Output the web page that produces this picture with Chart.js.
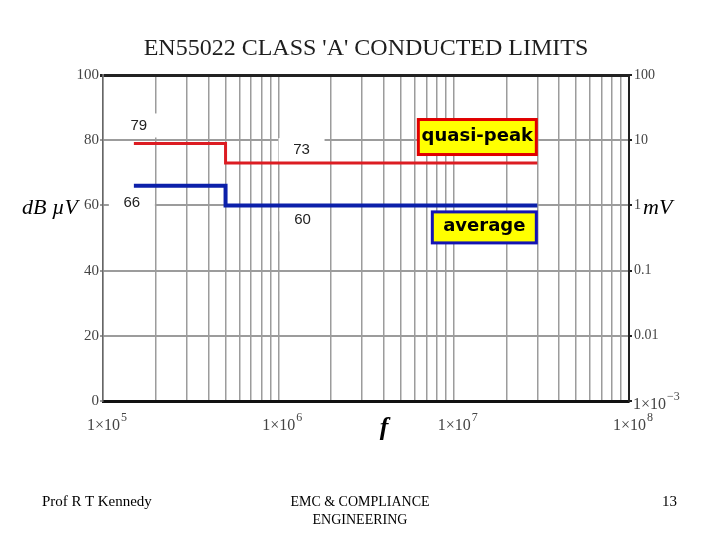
<!DOCTYPE html>
<html>
<head>
<meta charset="utf-8">
<script src="https://cdn.jsdelivr.net/npm/chart.js@4.4.1/dist/chart.umd.min.js"></script>
<style>
    body { margin: 0; background: #fff; }
    #wrap { position: relative; width: 720px; height: 540px; overflow: hidden; }
    #limits { position: absolute; left: 0; top: 0; }
    .txt { position: absolute; font-family: "Liberation Serif", "Times New Roman", serif; color: #000; }
    #title { left: 0; width: 732px; top: 34px; text-align: center; font-size: 24px; color: #1e1e1e; }
    #author { left: 42px; top: 493px; font-size: 15px; }
    #dept { left: 260px; width: 200px; top: 493px; font-size: 14px; line-height: 18px; text-align: center; }
    #page { left: 662px; top: 493px; font-size: 15px; }
</style>
</head>
<body>
<div id="wrap">
    <canvas id="limits" width="720" height="540"></canvas>
    <div class="txt" id="title">EN55022 CLASS 'A' CONDUCTED LIMITS</div>
    <div class="txt" id="author">Prof R T Kennedy</div>
    <div class="txt" id="dept">EMC &amp; COMPLIANCE<br>ENGINEERING</div>
    <div class="txt" id="page">13</div>
</div>
<script>
// limit lines: frequency break points (Hz) and level held from each point (dBuV)
const freqBreaks = [1.5e5, 5e5, 3e7];
const quasiPeakDb = [79, 73, 73];
const averageDb = [66, 60, 60];

// axes
const freqDecades = [1e5, 1e6, 1e7, 1e8];
const freqDecadeLabels = [['1×10', '5'], ['1×10', '6'], ['1×10', '7'], ['1×10', '8']];
const freqMinorSteps = [1, 2, 3, 4, 5, 6, 7, 8, 9];
const dbTicks = [0, 20, 40, 60, 80, 100];
const mvTicks = [1e-3, 0.01, 0.1, 1, 10, 100];
const mvTickLabels = [['1×10', '−3'], '0.01', '0.1', '1', '10', '100'];

const serif = '"Liberation Serif", "Times New Roman", serif';

const freqGrid = [];
freqDecades.slice(0, -1).forEach((d) => {
    freqMinorSteps.forEach((m) => freqGrid.push(d * m));
});
freqGrid.push(freqDecades[freqDecades.length - 1]);

function toPoints(levels) {
    return freqBreaks.map((f, i) => ({ x: f, y: levels[i] }));
}

function box(ctx, cx, cy, w, h, fill, stroke, lw) {
    ctx.fillStyle = fill;
    ctx.fillRect(cx - w / 2, cy - h / 2, w, h);
    if (stroke) {
        ctx.strokeStyle = stroke;
        ctx.lineWidth = lw;
        ctx.strokeRect(cx - w / 2, cy - h / 2, w, h);
    }
}

// "1x10" with a raised exponent, left edge at x, baseline at y
function powerLabel(ctx, parts, x, y) {
    ctx.textAlign = 'left';
    ctx.textBaseline = 'alphabetic';
    ctx.font = '16px ' + serif;
    ctx.fillText(parts[0], x, y);
    const w = ctx.measureText(parts[0]).width;
    ctx.font = '12px ' + serif;
    ctx.fillText(parts[1], x + w + 1, y - 9);
}

// value notes sitting next to the limit lines
function valueNotes(chart) {
    const xs = chart.scales.x;
    const ys = chart.scales.y;
    const start = xs.getPixelForValue(freqBreaks[0]);
    const step = xs.getPixelForValue(freqBreaks[1]);

    return [
        { text: String(quasiPeakDb[0]), x: start + 5, y: ys.getPixelForValue(quasiPeakDb[0]) - 18 },
        { text: String(quasiPeakDb[1]), x: step + 76, y: ys.getPixelForValue(quasiPeakDb[1]) - 13 },
        { text: String(averageDb[0]), x: start - 2, y: ys.getPixelForValue(averageDb[0]) + 17 },
        { text: String(averageDb[1]), x: step + 77, y: ys.getPixelForValue(averageDb[1]) + 14 },
    ];
}

const notesPlugin = {
    id: 'limitNotes',
    beforeDatasetsDraw(chart) {
        const ctx = chart.ctx;
        ctx.save();
        valueNotes(chart).forEach((n) => box(ctx, n.x, n.y, 46, 24, '#fff'));
        ctx.restore();
    },
    afterDatasetsDraw(chart) {
        const ctx = chart.ctx;
        const xs = chart.scales.x;
        const ys = chart.scales.y;
        const y2 = chart.scales.y2;
        const area = chart.chartArea;
        ctx.save();
        ctx.textAlign = 'center';
        ctx.textBaseline = 'middle';

        ctx.font = '15px "Liberation Sans", Arial, sans-serif';
        ctx.fillStyle = '#222';
        valueNotes(chart).forEach((n) => ctx.fillText(n.text, n.x, n.y));

        const end = xs.getPixelForValue(freqBreaks[2]);
        const qpY = ys.getPixelForValue(quasiPeakDb[2]);
        const avY = ys.getPixelForValue(averageDb[2]);

        box(ctx, end - 60, qpY - 26, 118, 35, '#ffff00', '#e00000', 3);
        box(ctx, end - 53, avY + 22, 104, 31, '#ffff00', '#1414b4', 3);
        ctx.font = 'bold 18px "DejaVu Sans", Verdana, sans-serif';
        ctx.fillStyle = '#000';
        ctx.fillText('quasi-peak', end - 60, qpY - 27);
        ctx.fillText('average', end - 53, avY + 21);

        // axis names
        ctx.font = 'italic 22px ' + serif;
        ctx.textAlign = 'left';
        ctx.fillText('dB µV', 22, ys.getPixelForValue(60) + 3);
        ctx.fillText('mV', area.right + 14, ys.getPixelForValue(60) + 3);
        ctx.font = 'italic bold 26px ' + serif;
        ctx.textAlign = 'center';
        ctx.fillText('f', (area.left + area.right) / 2 + 18, area.bottom + 27);

        // power-of-ten tick labels
        ctx.fillStyle = '#444';
        freqDecades.forEach((v, i) => {
            powerLabel(ctx, freqDecadeLabels[i], xs.getPixelForValue(v) - 16, area.bottom + 29);
        });
        mvTicks.forEach((v, i) => {
            if (Array.isArray(mvTickLabels[i])) {
                powerLabel(ctx, mvTickLabels[i], area.right + 4, y2.getPixelForValue(v) + 8);
            }
        });
        ctx.restore();
    },
};

new Chart(document.getElementById('limits'), {
    type: 'line',
    data: {
        datasets: [
            {
                label: 'quasi-peak',
                data: toPoints(quasiPeakDb),
                borderColor: '#dc1c22',
                borderWidth: 3,
                stepped: true,
                pointRadius: 0,
                yAxisID: 'y',
            },
            {
                label: 'average',
                data: toPoints(averageDb),
                borderColor: '#0c20aa',
                borderWidth: 4,
                stepped: true,
                pointRadius: 0,
                yAxisID: 'y',
            },
        ],
    },
    options: {
        responsive: false,
        animation: false,
        devicePixelRatio: 1,
        layout: { padding: { top: 75, left: 0, right: 0, bottom: 0 } },
        plugins: { legend: { display: false }, tooltip: { enabled: false } },
        scales: {
            x: {
                type: 'logarithmic',
                min: freqDecades[0],
                max: freqDecades[freqDecades.length - 1],
                afterBuildTicks: (scale) => { scale.ticks = freqGrid.map((v) => ({ value: v })); },
                afterFit: (scale) => { scale.height = 139; },
                grid: { color: '#9c9c9c', lineWidth: 1.5, tickLength: 0 },
                border: { color: '#111', width: 3 },
                ticks: { autoSkip: false, maxRotation: 0, callback: () => '' },
            },
            y: {
                position: 'left',
                min: dbTicks[0],
                max: dbTicks[dbTicks.length - 1],
                afterBuildTicks: (scale) => { scale.ticks = dbTicks.map((v) => ({ value: v })); },
                afterFit: (scale) => { scale.width = 103; },
                grid: {
                    color: (c) => (c.tick && c.tick.value === 100 ? '#222' : '#9c9c9c'),
                    lineWidth: (c) => (c.tick && c.tick.value === 100 ? 3 : 2),
                    tickLength: 3,
                },
                border: { color: '#666', width: 1.5 },
                ticks: { padding: 1, color: '#444', font: { family: serif, size: 15 } },
            },
            y2: {
                type: 'logarithmic',
                position: 'right',
                min: mvTicks[0],
                max: mvTicks[mvTicks.length - 1],
                afterBuildTicks: (scale) => { scale.ticks = mvTicks.map((v) => ({ value: v })); },
                afterFit: (scale) => { scale.width = 91; },
                grid: { drawOnChartArea: false, tickLength: 3, color: '#222', lineWidth: 2 },
                border: { color: '#222', width: 2 },
                ticks: {
                    padding: 2,
                    color: '#444',
                    font: { family: serif, size: 14 },
                    callback: (value) => {
                        const i = mvTicks.indexOf(value);
                        return i >= 0 && !Array.isArray(mvTickLabels[i]) ? mvTickLabels[i] : '';
                    },
                },
            },
        },
    },
    plugins: [notesPlugin],
});
</script>
</body>
</html>
